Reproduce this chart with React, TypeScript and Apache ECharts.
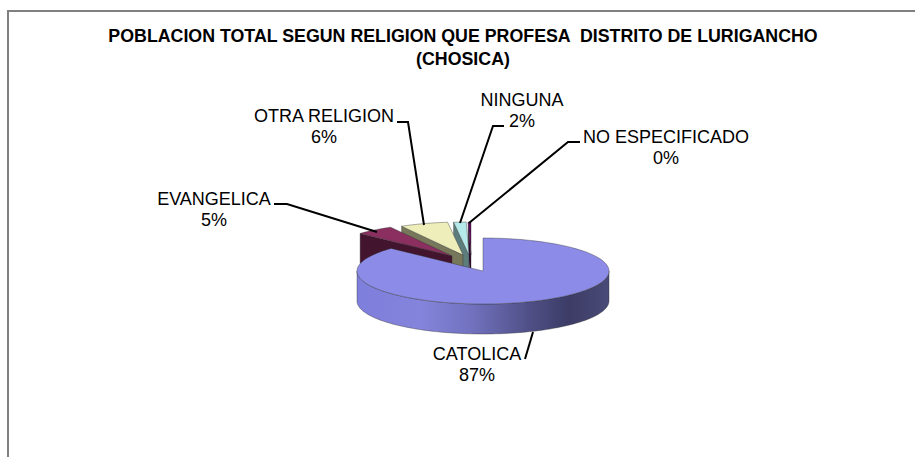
import React, { useEffect, useRef } from "react";
import * as echarts from "echarts";

const categories = ["CATOLICA", "EVANGELICA", "OTRA RELIGION", "NINGUNA", "NO ESPECIFICADO"];
const shares = [87.0, 4.9, 6.15, 1.6, 0.35];
const titleLines = ["POBLACION TOTAL SEGUN RELIGION QUE PROFESA  DISTRITO DE LURIGANCHO", "(CHOSICA)"];

const topColors = ["#8c8ce8", "#8a2f60", "#eeeebb", "#b6e9e9", "#5c0a5c"];
const wallColors = ["#6e6ec0", "#42142e", "#77775c", "#5d7c7c", "#2e052e"];
const explode = [[0, 0], [-31, -15], [-20, -16], [-14, -16], [-12, -16]];
const layerOrder = [50, 40, 30, 20, 10];
const labelSpots = [[477, 364.5], [214, 209], [324, 126], [522, 110.5], [666, 147]];
const leaders = [
  [[525, 359], [533, 332]],
  [[274, 204], [287, 204], [377, 232]],
  [[397, 122], [408, 122], [424, 225]],
  [[504, 126], [493, 126], [460, 223]],
  [[580, 142], [568, 142], [469, 223]],
];

const CX = 483, CY = 271, RX = 126, RY = 33, DEPTH = 30;
const FONT = '"Liberation Sans", Arial, sans-serif';
const pt = (deg: number, ox: number, oy: number, r = 1) => {
  const a = (deg * Math.PI) / 180;
  return [CX + ox + RX * r * Math.sin(a), CY + oy - RY * r * Math.cos(a)];
};
const arc = (from: number, to: number, ox: number, oy: number, dy = 0) => {
  const out: number[][] = [];
  const n = Math.max(2, Math.ceil(Math.abs(to - from) / 2));
  for (let i = 0; i <= n; i++) {
    const p = pt(from + ((to - from) * i) / n, ox, oy);
    out.push([p[0], p[1] + dy]);
  }
  return out;
};

export default function App() {
  const ref = useRef<HTMLDivElement>(null);
  useEffect(() => {
    const chart = echarts.init(ref.current!, null, { renderer: "svg" });
    const total = shares.reduce((a, b) => a + b, 0);
    const renderItem = (params: any, api: any) => {
      const i = params.dataIndex;
      const v = api.value(0);
      let start = 0;
      for (let k = 0; k < i; k++) start += (shares[k] / total) * 360;
      const end = start + (v / total) * 360;
      const [ox, oy] = explode[i];
      const z = layerOrder[i];
      const apex = [CX + ox, CY + oy];
      const children: any[] = [];
      const edge = { stroke: "rgba(50,50,50,0.65)", lineWidth: 0.6 };
      if (i === 0) {
        const front = [...arc(90, 270, 0, 0), ...arc(270, 90, 0, 0, DEPTH)];
        children.push({
          type: "polygon", z2: z,
          shape: { points: front },
          style: {
            ...edge,
            fill: new echarts.graphic.LinearGradient(CX - RX, 0, CX + RX, 0, [
              { offset: 0, color: "#7e7edc" },
              { offset: 0.25, color: "#8484dc" },
              { offset: 0.45, color: "#7272c0" },
              { offset: 0.68, color: "#505088" },
              { offset: 0.84, color: "#3c3c66" },
              { offset: 1, color: "#4a4a78" },
            ], true),
          },
        });
      } else {
        const o = pt(start, ox, oy);
        children.push({
          type: "polygon", z2: z,
          shape: { points: [o, apex, [apex[0], apex[1] + DEPTH], [o[0], o[1] + DEPTH]] },
          style: { ...edge, fill: wallColors[i] },
        });
      }
      children.push({
        type: "polygon", z2: z + 1,
        shape: { points: [apex, ...arc(start, end, ox, oy)] },
        style: { ...edge, fill: topColors[i] },
      });
      children.push({
        type: "polyline", z2: 60,
        shape: { points: leaders[i] },
        style: { stroke: "#000", lineWidth: 2, fill: "none" },
      });
      children.push({
        type: "text", z2: 70,
        style: {
          text: `${categories[i]}\n${Math.round((v / total) * 100)}%`,
          x: labelSpots[i][0], y: labelSpots[i][1],
          align: "center", verticalAlign: "middle",
          fontFamily: FONT, fontSize: 18, lineHeight: 21, fill: "#000",
        },
      });
      return { type: "group", children };
    };
    chart.setOption({
      animation: false,
      backgroundColor: "#fff",
      title: {
        text: titleLines.join("\n"),
        left: 458, top: 19, textAlign: "center",
        textStyle: { fontFamily: FONT, fontSize: 17.8, fontWeight: "bold", lineHeight: 23, color: "#000" },
      },
      graphic: [
        { type: "line", shape: { x1: 8, y1: 11, x2: 915, y2: 11 }, style: { stroke: "#808080", lineWidth: 2 } },
        { type: "line", shape: { x1: 8, y1: 10, x2: 8, y2: 457 }, style: { stroke: "#808080", lineWidth: 2 } },
      ],
      series: [{
        type: "custom",
        coordinateSystem: "none",
        renderItem,
        data: shares.map((s, i) => ({ name: categories[i], value: [s] })),
      }],
    });
    return () => chart.dispose();
  }, []);
  return <div ref={ref} style={{ position: "fixed", left: 0, top: 0, width: 915, height: 457 }} />;
}
